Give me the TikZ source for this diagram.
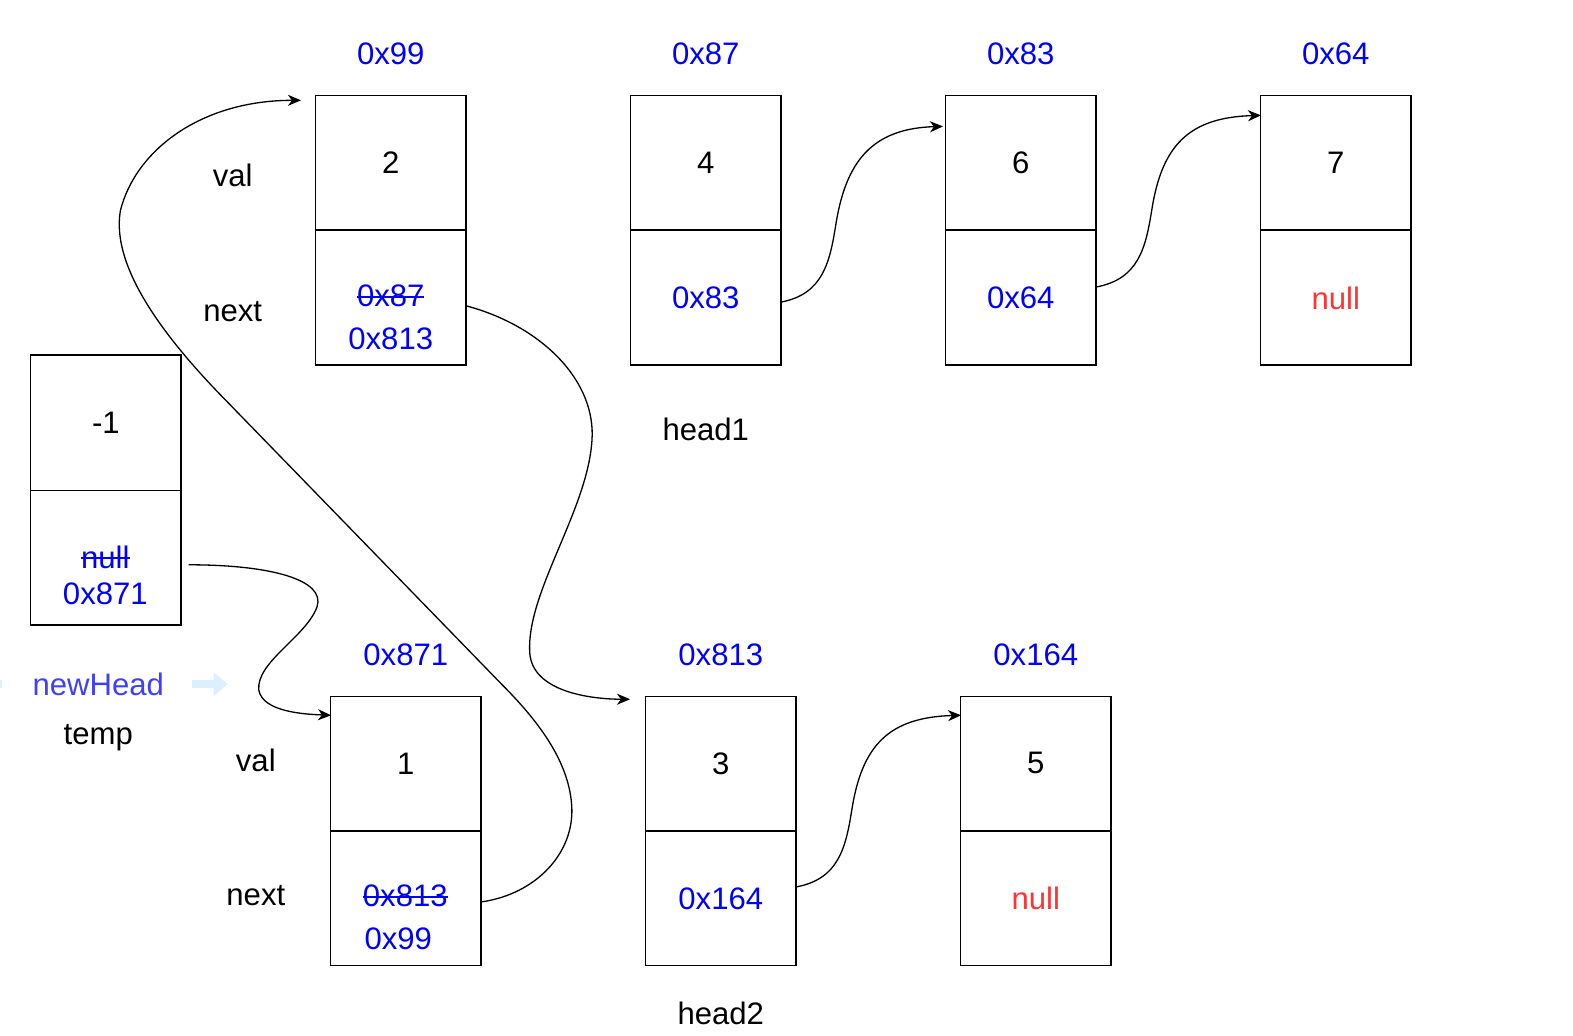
\documentclass[tikz,border=0pt]{standalone}
\usepackage{fontspec}
\setmainfont{Liberation Sans}
\usetikzlibrary{arrows.meta,calc}
\definecolor{addr}{HTML}{0000FF}
\definecolor{nullred}{HTML}{FF3333}
\definecolor{nhblue}{HTML}{3F3FFF}
\definecolor{ghost}{HTML}{DCEFFC}
\newcommand{\strk}[1]{\setbox0\hbox{#1}\rlap{\rule[0.3em]{\wd0}{2pt}}\box0}
\begin{document}
\begin{tikzpicture}[x=1pt,y=-1pt,
  every node/.style={font=\fontsize{31}{37}\selectfont},
  cell/.style={draw, line width=1.4pt, minimum width=150pt, minimum height=134pt, inner sep=0pt},
  txt/.style={inner sep=0pt, anchor=base},
  adr/.style={txt, text=addr},
  link/.style={line width=1.3pt, -{Stealth[length=13pt,width=11pt,inset=4pt]}},
  ghostarrow/.style={ghost, line width=8pt, -{Triangle[length=14pt,width=23pt]}}
]
\useasboundingbox (0,0) rectangle (1568,1032);

% top row boxes
\node[cell] (Av) at (389.5,162) {2};
\node[cell] (An) at (389.5,297) {};
\node[cell] (Bv) at (703.5,162) {4};
\node[cell, text=addr] (Bn) at (703.5,297) {0x83};
\node[cell] (Cv) at (1017.5,162) {6};
\node[cell, text=addr] (Cn) at (1017.5,297) {0x64};
\node[cell] (Dv) at (1331.5,162) {7};
\node[cell, text=nullred] (Dn) at (1331.5,297) {null};

% dummy head box
\node[cell, minimum height=135pt] (Ev) at (105.5,421.5) {-1};
\node[cell] (En) at (105.5,556) {};

% bottom row boxes
\node[cell] (Fv) at (404.5,761) {1};
\node[cell] (Fn) at (404.5,895.5) {};
\node[cell] (Gv) at (718.5,761) {3};
\node[cell, text=addr] (Gn) at (718.5,895.5) {0x164};
\node[cell] (Hv) at (1032.5,761) {5};
\node[cell, text=nullred] (Hn) at (1032.5,895.5) {null};

% addresses
\node[adr] (a99) at (389.5,64) {0x99};
\node[adr] (a87) at (703.5,64) {0x87};
\node[adr] (a83) at (1017.5,64) {0x83};
\node[adr] (a64) at (1331.5,64) {0x64};
\node[adr] (a871) at (404.5,663) {0x871};
\node[adr] (a813) at (718.5,663) {0x813};
\node[adr] (a164) at (1032.5,663) {0x164};

% two-line next fields
\node[adr] (An1) at (389.5,306) {\strk{0x87}};
\node[adr] (An2) at (389.5,348) {0x813};
\node[adr] (En1) at (105,567) {\strk{null}};
\node[adr] (En2) at (105,603) {0x871};
\node[adr] (Fn1) at (404,904) {\strk{0x813}};
\node[adr] (Fn2) at (397,946) {0x99};

% labels
\node[txt] (lv1) at (232,186) {val};
\node[txt] (ln1) at (232,320) {next};
\node[txt] (lv2) at (255,769) {val};
\node[txt] (ln2) at (255,903) {next};
\node[txt] (head1) at (703.5,439) {head1};
\node[txt] (head2) at (718.5,1021) {head2};
\node[txt, text=nhblue] (newhead) at (98,693) {newHead};
\node[txt] (temp) at (98,742) {temp};

% ghost arrows
\coordinate (g1s) at (191,682);
\coordinate (g1e) at (227,682);
\draw[ghostarrow] (g1s) -- (g1e);
\coordinate (g0a) at (-12,678);
\coordinate (g0b) at (2,686);
\fill[ghost] (g0a) rectangle (g0b);

% connector end points
\coordinate (Atip) at (300,100);
\coordinate (Gtip) at (628,697);
\coordinate (Ftip) at (330,713);
\coordinate (Ctip) at (940,126);
\coordinate (Dtip) at (1257,115);
\coordinate (Htip) at (958,713);
\coordinate (Es) at (188,563);

% connectors
\draw[link] ($(Fn.east)+(0,3.5)$) .. controls (535,891) and (572,850) .. (570,805)
   .. controls (568,762) and (540,722) .. (500,682)
   -- (226,400)
   .. controls (168,341) and (110,268) .. (120,210)
   .. controls (135,150) and (200,100) .. (Atip);
\draw[link] ($(An.east)+(0,8)$) .. controls (540,325) and (595,380) .. (590,440)
   .. controls (585,510) and (525,590) .. (528,650)
   .. controls (530,690) and (590,697) .. (Gtip);
\draw[link] (Es) .. controls (270,563) and (325,578) .. (316,605)
   .. controls (305,635) and (255,660) .. (258,688)
   .. controls (262,710) and (305,712) .. (Ftip);
\draw[link] ($(Bn.east)+(0,4)$) .. controls (820,293) and (827,262) .. (833,225)
   .. controls (843,160) and (870,128) .. (Ctip);
\draw[link] ($(Cn.east)+(0,-11)$) .. controls (1135,278) and (1142,247) .. (1148,210)
   .. controls (1158,145) and (1185,117) .. (Dtip);
\draw[link] ($(Gn.east)+(0,-11.5)$) .. controls (836,876) and (843,845) .. (849,808)
   .. controls (859,743) and (886,715) .. (Htip);
\end{tikzpicture}
\end{document}
